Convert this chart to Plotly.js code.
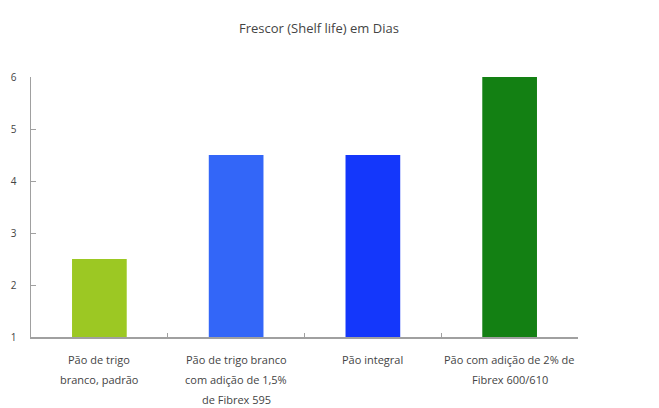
<!DOCTYPE html>
<html>
<head>
<meta charset="utf-8">
<script src="https://cdn.plot.ly/plotly-3.0.1.min.js"></script>
<style>html,body{margin:0;padding:0;background:#fff;}#chart{width:659px;height:408px;}</style>
</head>
<body>
<div id="chart"></div>
<script>
const categories = ["Pão de trigo branco, padrão", "Pão de trigo branco com adição de 1,5% de Fibrex 595", "Pão integral", "Pão com adição de 2% de Fibrex 600/610"];
const categoryLabelLines = [
  ["Pão de trigo", "branco, padrão"],
  ["Pão de trigo branco", "com adição de 1,5%", "de Fibrex 595"],
  ["Pão integral"],
  ["Pão com adição de 2% de", "Fibrex 600/610"]
];
const shelfLifeDays = [2.5, 4.5, 4.5, 6];
const barColors = ["#9cc823", "#3366f8", "#1437fb", "#138013"];
const yTicks = [1, 2, 3, 4, 5, 6];

const FONT = "'Open Sans', Lato, sans-serif";

const trace = {
  type: "bar",
  x: categories,
  y: shelfLifeDays,
  marker: {color: barColors},
  hoverinfo: "skip"
};

const annotations = [];
categoryLabelLines.forEach((lines, i) => {
  lines.forEach((line, j) => {
    annotations.push({
      x: categories[i], xref: "x",
      y: 0, yref: "paper", yanchor: "middle",
      yshift: -(22 + 20 * j),
      text: line, showarrow: false,
      font: {family: FONT, size: 11, color: "#444"}
    });
  });
});

const layout = {
  width: 659, height: 408,
  margin: {l: 31, r: 81, t: 77, b: 71},
  paper_bgcolor: "#fff", plot_bgcolor: "#fff",
  bargap: 0.6,
  showlegend: false,
  title: {text: "Frescor (Shelf life) em Dias", x: 0.484, xref: "container", xanchor: "center",
          y: 0.931, yref: "container", yanchor: "middle",
          font: {family: FONT, size: 13, color: "#444"}},
  annotations: annotations,
  xaxis: {
    type: "category",
    showline: true, linecolor: "#a0a0a0", linewidth: 1.5,
    ticks: "inside", ticklen: 4, tickcolor: "#a0a0a0", tickson: "boundaries",
    showticklabels: false,
    showgrid: false, zeroline: false,
    fixedrange: true
  },
  yaxis: {
    range: [1, 6],
    tickvals: yTicks,
    showline: true, linecolor: "#a0a0a0", linewidth: 1.5,
    ticks: "inside", ticklen: 5, tickcolor: "#a0a0a0",
    showgrid: false, zeroline: false,
    tickfont: {family: FONT, size: 10, color: "#444"},
    ticklabelstandoff: 11,
    fixedrange: true
  }
};

Plotly.newPlot("chart", [trace], layout, {displayModeBar: false, staticPlot: true});
</script>
</body>
</html>
